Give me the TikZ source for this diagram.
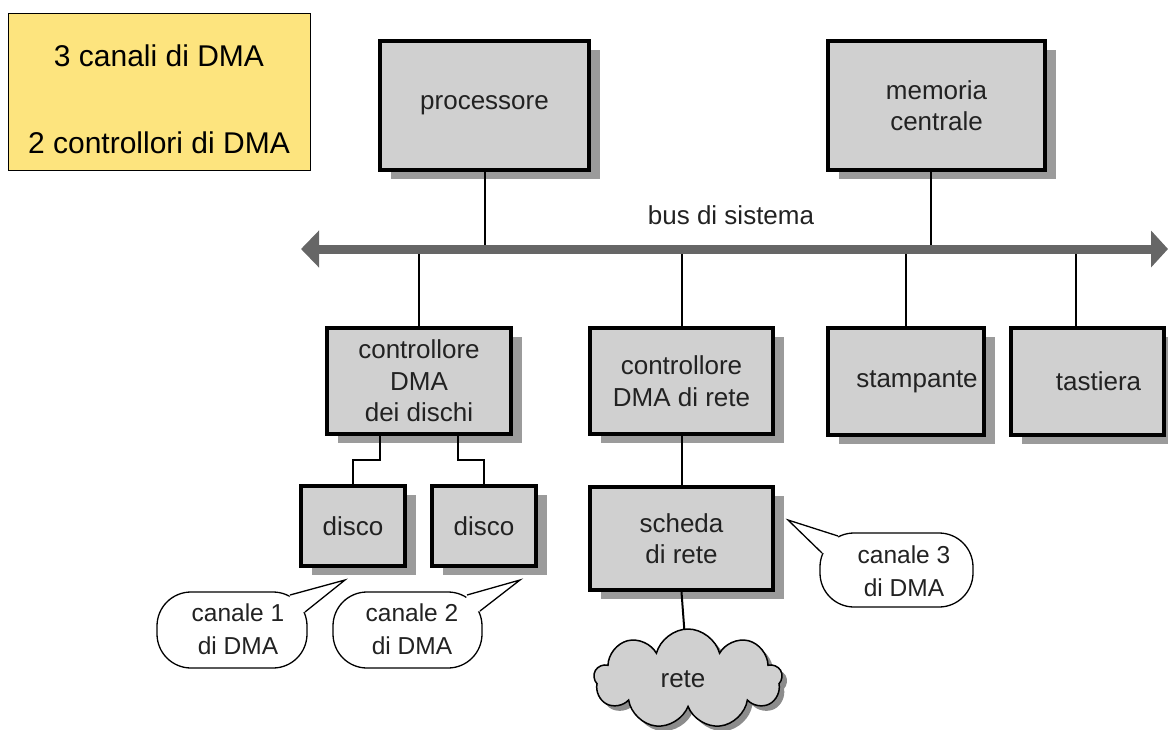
\documentclass[tikz,border=0pt]{standalone}
\usepackage{fontspec}
\setmainfont{Liberation Sans}
\usetikzlibrary{shadows,shapes.symbols,calc,arrows.meta,backgrounds}
\pgfdeclarelayer{front}
\pgfsetlayers{background,main,front}

\definecolor{boxgray}{RGB}{208,208,208}
\definecolor{shadowgray}{RGB}{155,155,155}
\definecolor{busgray}{RGB}{102,102,102}
\definecolor{notebg}{RGB}{253,228,126}
\definecolor{ink}{RGB}{34,34,34}

\begin{document}
\begin{tikzpicture}[x=1pt,y=-1pt,
  unit/.style={draw=black, line width=4pt, fill=boxgray, text=ink, align=center,
    inner sep=0pt, font=\fontsize{26}{31.5}\selectfont,
    drop shadow={shadow xshift=11pt, shadow yshift=-9pt, fill=shadowgray, opacity=1}},
  link/.style={draw=black, line width=2pt},
  bus/.style={draw=busgray, line width=9pt,
    {Triangle[length=18pt,width=36pt]}-{Triangle[length=17pt,width=36pt]}},
  notetext/.style={inner sep=0pt, font=\fontsize{30}{36}\selectfont},
  calltext/.style={text=ink, align=center, inner sep=0pt,
    font=\fontsize{24.5}{33}\selectfont},
  bubble/.style={draw=black, line width=1.3pt, fill=white, rounded corners=34pt},
  pointer/.style={draw=black, line width=1.3pt, line join=miter},
]
\useasboundingbox (0,0) rectangle (1168,729);

% summary note
\node[draw=black, line width=1pt, fill=notebg, minimum width=302, minimum height=157,
  inner sep=0pt] (note) at (159,91.5) {};
\node[notetext] (note1) at (159,56) {3 canali di DMA};
\node[notetext] (note2) at (159,143) {2 controllori di DMA};

% units
\node[unit, minimum width=209, minimum height=129] (proc) at (484.5,105.5) {processore};
\node[unit, minimum width=217, minimum height=129] (mem) at (936.5,105.5) {memoria\\centrale};
\node[unit, minimum width=184, minimum height=106] (cd) at (419,381) {controllore\\DMA\\dei dischi};
\node[unit, minimum width=183, minimum height=106] (cr) at (681.5,381) {controllore\\DMA di rete};
\node[unit, minimum width=156, minimum height=107] (st) at (906,381.5) {\hspace*{22pt}stampante};
\node[unit, minimum width=153, minimum height=107] (tk) at (1087.5,381.5) {\hspace*{22pt}tastiera};
\node[unit, minimum width=104, minimum height=80] (d1) at (353,526) {disco};
\node[unit, minimum width=104, minimum height=80] (d2) at (484,526) {disco};
\node[unit, minimum width=183, minimum height=103] (sch) at (681.5,538.5) {scheda\\di rete};

% network cloud
\begin{pgfonlayer}{front}
\node[cloud, cloud puffs=9, cloud ignores aspect, minimum width=188, minimum height=100,
  draw=black, line width=1.5pt, fill=boxgray, text=ink, font=\fontsize{26}{30}\selectfont,
  drop shadow={shadow xshift=5pt, shadow yshift=-5pt, fill=black!45, opacity=1}]
  (net) at (688,679) {\hspace*{-10pt}rete};
\end{pgfonlayer}

% system bus
\coordinate (busL) at (301,249);
\coordinate (busR) at (1168,249);
\node[text=ink, font=\fontsize{26}{30}\selectfont] (buslabel) at (731,215) {bus di sistema};

\draw[link] (proc.south) -- (proc.south |- busL);
\draw[link] ([xshift=-5.5pt]mem.south) -- ([xshift=-5.5pt]mem.south |- busL);
\draw[link] (cd.north) -- (cd.north |- busL);
\draw[link] (cr.north) -- (cr.north |- busL);
\draw[link] (st.north) -- (st.north |- busL);
\draw[link] ([xshift=-11.5pt]tk.north) -- ([xshift=-11.5pt]tk.north |- busL);
\draw[bus] (busL) -- (busR);

% device links
\draw[link] ([xshift=-39pt]cd.south) -- ++(0,24) -| (d1.north);
\draw[link] ([xshift=39pt]cd.south) -- ++(0,24) -| (d2.north);
\draw[link] (cr.south) -- (sch.north);
\draw[link] (sch.south) -- (net.center);

% channel callouts: text nodes, bubbles drawn behind them
\node[calltext] (c1) at (238,629) {canale 1\\di DMA};
\node[calltext] (c2) at (412,629) {canale 2\\di DMA};
\node[calltext] (c3) at (904,571) {canale 3\\di DMA};
\coordinate (t1) at (345,580);
\coordinate (t2) at (520,580);
\coordinate (t3) at (788,520);

\begin{pgfonlayer}{background}
\draw[bubble] ($(c1)+(-81,-37)$) rectangle ($(c1)+(69,39)$);
\fill[white] ($(c1)+(52,-34)$) -- (t1) -- ($(c1)+(67,-17)$) -- ($(c1)+(48,-14)$) -- cycle;
\draw[pointer] ($(c1)+(52,-34)$) -- (t1) -- ($(c1)+(67,-17)$);

\draw[bubble] ($(c2)+(-79,-37)$) rectangle ($(c2)+(70,39)$);
\fill[white] ($(c2)+(55,-34)$) -- (t2) -- ($(c2)+(68,-18)$) -- ($(c2)+(50,-14)$) -- cycle;
\draw[pointer] ($(c2)+(55,-34)$) -- (t2) -- ($(c2)+(68,-18)$);

\draw[bubble] ($(c3)+(-84,-38)$) rectangle ($(c3)+(69,36)$);
\fill[white] ($(c3)+(-66,-35)$) -- (t3) -- ($(c3)+(-82,-18)$) -- ($(c3)+(-62,-16)$) -- cycle;
\draw[pointer] ($(c3)+(-66,-35)$) -- (t3) -- ($(c3)+(-82,-18)$);
\end{pgfonlayer}
\end{tikzpicture}
\end{document}
